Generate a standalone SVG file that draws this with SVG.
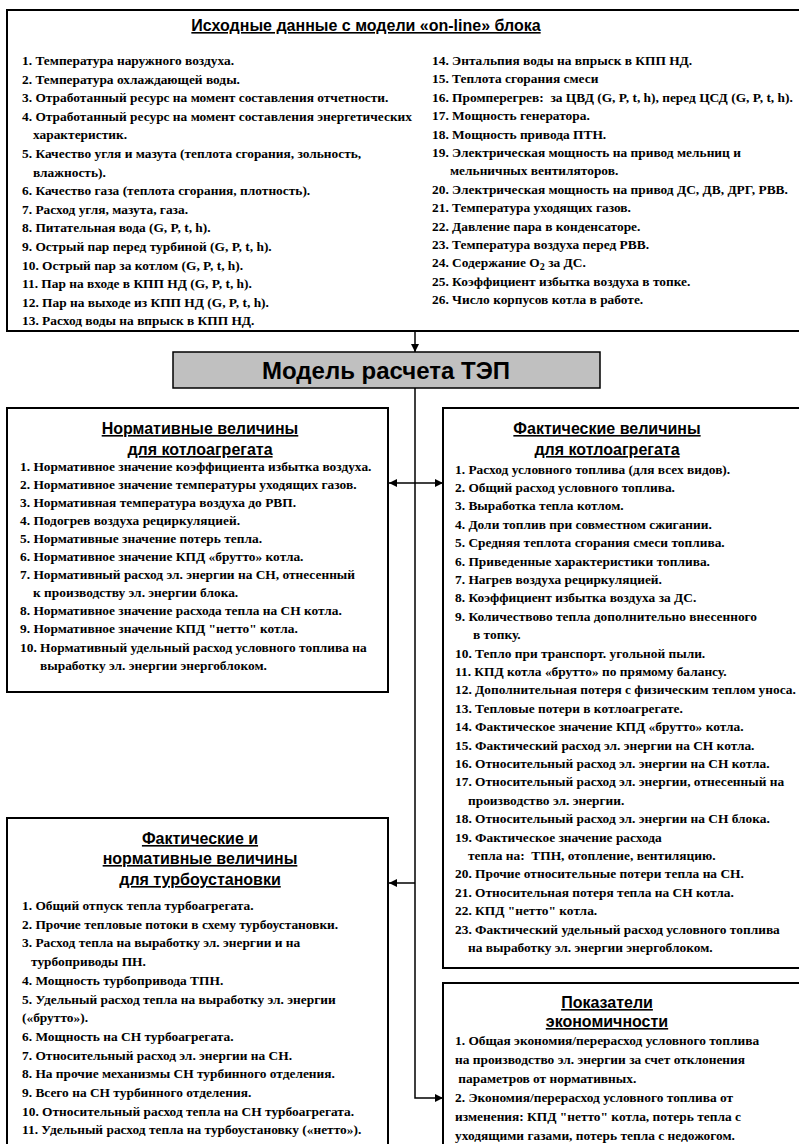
<svg xmlns="http://www.w3.org/2000/svg" width="799" height="1144" viewBox="0 0 799 1144">
<style>
.box{fill:#fff;stroke:#000;stroke-width:2}
.t{font-family:"Liberation Serif","Times New Roman",serif;font-weight:bold;font-size:13.4px;fill:#000;white-space:pre}
.h{font-family:"Liberation Sans",Arial,sans-serif;font-weight:bold;font-size:16px;fill:#000;text-decoration:underline;text-anchor:middle}
.m{font-family:"Liberation Sans",Arial,sans-serif;font-weight:bold;font-size:24px;fill:#000;text-anchor:middle}
.c{fill:none;stroke:#000;stroke-width:1.5}
</style>
<defs>
<marker id="ah" viewBox="0 0 10 10" refX="10" refY="5" markerWidth="10" markerHeight="8" markerUnits="userSpaceOnUse" orient="auto">
<path d="M0,0 L10,5 L0,10 z" fill="#000"/>
</marker>
</defs>
<rect width="799" height="1144" fill="#fff"/>

<g id="connectors">
<line class="c" x1="415" y1="331" x2="415" y2="352" marker-end="url(#ah)"/>
<polyline class="c" points="415,388 415,1098 443,1098" marker-end="url(#ah)"/>
<line class="c" x1="415" y1="483" x2="389" y2="483" marker-end="url(#ah)"/>
<line class="c" x1="415" y1="483" x2="443" y2="483" marker-end="url(#ah)"/>
<line class="c" x1="415" y1="883" x2="389" y2="883" marker-end="url(#ah)"/>
</g>

<g id="source">
<rect class="box" x="7" y="10" width="800" height="321"/>
<text class="h" x="366" y="31">Исходные данные с модели «on-line» блока</text>
<text class="t" x="22" y="65">1. Температура наружного воздуха.</text>
<text class="t" x="22" y="83.6">2. Температура охлаждающей воды.</text>
<text class="t" x="22" y="102.2">3. Отработанный ресурс на момент составления отчетности.</text>
<text class="t" x="22" y="120.8">4. Отработанный ресурс на момент составления энергетических</text>
<text class="t" x="33" y="139.4">характеристик.</text>
<text class="t" x="22" y="158">5. Качество угля и мазута (теплота сгорания, зольность,</text>
<text class="t" x="33" y="176.6">влажность).</text>
<text class="t" x="22" y="195.2">6. Качество газа (теплота сгорания, плотность).</text>
<text class="t" x="22" y="213.8">7. Расход угля, мазута, газа.</text>
<text class="t" x="22" y="232.4">8. Питательная вода (G, P, t, h).</text>
<text class="t" x="22" y="251">9. Острый пар перед турбиной (G, P, t, h).</text>
<text class="t" x="22" y="269.6">10. Острый пар за котлом (G, P, t, h).</text>
<text class="t" x="22" y="288.2">11. Пар на входе в КПП НД (G, P, t, h).</text>
<text class="t" x="22" y="306.8">12. Пар на выходе из КПП НД (G, P, t, h).</text>
<text class="t" x="22" y="325.4">13. Расход воды на впрыск в КПП НД.</text>
<text class="t" x="432" y="65">14. Энтальпия воды на впрыск в КПП НД.</text>
<text class="t" x="432" y="83.4">15. Теплота сгорания смеси</text>
<text class="t" x="432" y="101.8">16. Промперегрев:  за ЦВД (G, P, t, h), перед ЦСД (G, P, t, h).</text>
<text class="t" x="432" y="120.2">17. Мощность генератора.</text>
<text class="t" x="432" y="138.6">18. Мощность привода ПТН.</text>
<text class="t" x="432" y="157">19. Электрическая мощность на привод мельниц и</text>
<text class="t" x="450" y="175.4">мельничных вентиляторов.</text>
<text class="t" x="432" y="193.8">20. Электрическая мощность на привод ДС, ДВ, ДРГ, РВВ.</text>
<text class="t" x="432" y="212.2">21. Температура уходящих газов.</text>
<text class="t" x="432" y="230.6">22. Давление пара в конденсаторе.</text>
<text class="t" x="432" y="249">23. Температура воздуха перед РВВ.</text>
<text class="t" x="432" y="267.4">24. Содержание O<tspan font-size="10" dy="3">2</tspan><tspan dy="-3"> за ДС.</tspan></text>
<text class="t" x="432" y="285.8">25. Коэффициент избытка воздуха в топке.</text>
<text class="t" x="432" y="304.2">26. Число корпусов котла в работе.</text>
</g>

<g id="model">
<rect x="173" y="352" width="427" height="36" fill="#c0c0c0" stroke="#000" stroke-width="1.5"/>
<text class="m" x="386" y="378.5">Модель расчета ТЭП</text>
</g>

<g id="norm-boiler">
<rect class="box" x="7" y="408" width="381" height="284"/>
<text class="h" x="200" y="434">Нормативные величины</text>
<text class="h" x="200" y="455">для котлоагрегата</text>
<text class="t" x="20" y="470.5">1. Нормативное значение коэффициента избытка воздуха.</text>
<text class="t" x="20" y="488.6">2. Нормативное значение температуры уходящих газов.</text>
<text class="t" x="20" y="506.7">3. Нормативная температура воздуха до РВП.</text>
<text class="t" x="20" y="524.8">4. Подогрев воздуха рециркуляцией.</text>
<text class="t" x="20" y="542.9">5. Нормативные значение потерь тепла.</text>
<text class="t" x="20" y="561">6. Нормативное значение КПД «брутто» котла.</text>
<text class="t" x="20" y="579.1">7. Нормативный расход эл. энергии на СН, отнесенный</text>
<text class="t" x="33" y="597.2">к производству эл. энергии блока.</text>
<text class="t" x="20" y="615.3">8. Нормативное значение расхода тепла на СН котла.</text>
<text class="t" x="20" y="633.4">9. Нормативное значение КПД "нетто" котла.</text>
<text class="t" x="20" y="651.5">10. Нормативный удельный расход условного топлива на</text>
<text class="t" x="40" y="669.6">выработку эл. энергии энергоблоком.</text>
</g>

<g id="fact-boiler">
<rect class="box" x="443" y="408" width="370" height="560"/>
<text class="h" x="607" y="434">Фактические величины</text>
<text class="h" x="607" y="455">для котлоагрегата</text>
<text class="t" x="455" y="473.5">1. Расход условного топлива (для всех видов).</text>
<text class="t" x="455" y="491.9">2. Общий расход условного топлива.</text>
<text class="t" x="455" y="510.3">3. Выработка тепла котлом.</text>
<text class="t" x="455" y="528.7">4. Доли топлив при совместном сжигании.</text>
<text class="t" x="455" y="547.1">5. Средняя теплота сгорания смеси топлива.</text>
<text class="t" x="455" y="565.5">6. Приведенные характеристики топлива.</text>
<text class="t" x="455" y="583.9">7. Нагрев воздуха рециркуляцией.</text>
<text class="t" x="455" y="602.3">8. Коэффициент избытка воздуха за ДС.</text>
<text class="t" x="455" y="620.7">9. Количествово тепла дополнительно внесенного</text>
<text class="t" x="473" y="639.1">в топку.</text>
<text class="t" x="455" y="657.5">10. Тепло при транспорт. угольной пыли.</text>
<text class="t" x="455" y="675.9">11. КПД котла «брутто» по прямому балансу.</text>
<text class="t" x="455" y="694.3">12. Дополнительная потеря с физическим теплом уноса.</text>
<text class="t" x="455" y="712.7">13. Тепловые потери в котлоагрегате.</text>
<text class="t" x="455" y="731.1">14. Фактическое значение КПД «брутто» котла.</text>
<text class="t" x="455" y="749.5">15. Фактический расход эл. энергии на СН котла.</text>
<text class="t" x="455" y="767.9">16. Относительный расход эл. энергии на СН котла.</text>
<text class="t" x="455" y="786.3">17. Относительный расход эл. энергии, отнесенный на</text>
<text class="t" x="468" y="804.7">производство эл. энергии.</text>
<text class="t" x="455" y="823.1">18. Относительный расход эл. энергии на СН блока.</text>
<text class="t" x="455" y="841.5">19. Фактическое значение расхода</text>
<text class="t" x="468" y="859.9">тепла на:  ТПН, отопление, вентиляцию.</text>
<text class="t" x="455" y="878.3">20. Прочие относительные потери тепла на СН.</text>
<text class="t" x="455" y="896.7">21. Относительная потеря тепла на СН котла.</text>
<text class="t" x="455" y="915.1">22. КПД "нетто" котла.</text>
<text class="t" x="455" y="933.5">23. Фактический удельный расход условного топлива</text>
<text class="t" x="468" y="951.9">на выработку эл. энергии энергоблоком.</text>
</g>

<g id="turbine">
<rect class="box" x="7" y="818" width="381" height="340"/>
<text class="h" x="200" y="844">Фактические и</text>
<text class="h" x="200" y="864">нормативные величины</text>
<text class="h" x="200" y="885">для турбоустановки</text>
<text class="t" x="22" y="910">1. Общий отпуск тепла турбоагрегата.</text>
<text class="t" x="22" y="928.7">2. Прочие тепловые потоки в схему турбоустановки.</text>
<text class="t" x="22" y="947.4">3. Расход тепла на выработку эл. энергии и на</text>
<text class="t" x="31" y="966.1">турбоприводы ПН.</text>
<text class="t" x="22" y="984.8">4. Мощность турбопривода ТПН.</text>
<text class="t" x="22" y="1003.5">5. Удельный расход тепла на выработку эл. энергии</text>
<text class="t" x="22" y="1022.2">(«брутто»).</text>
<text class="t" x="22" y="1040.9">6. Мощность на СН турбоагрегата.</text>
<text class="t" x="22" y="1059.6">7. Относительный расход эл. энергии на СН.</text>
<text class="t" x="22" y="1078.3">8. На прочие механизмы СН турбинного отделения.</text>
<text class="t" x="22" y="1097">9. Всего на СН турбинного отделения.</text>
<text class="t" x="22" y="1115.7">10. Относительный расход тепла на СН турбоагрегата.</text>
<text class="t" x="22" y="1134.4">11. Удельный расход тепла на турбоустановку («нетто»).</text>
</g>

<g id="economy">
<rect class="box" x="443" y="983" width="370" height="175"/>
<text class="h" x="607" y="1008">Показатели</text>
<text class="h" x="607" y="1027">экономичности</text>
<text class="t" x="455" y="1044.5">1. Общая экономия/перерасход условного топлива</text>
<text class="t" x="455" y="1063.5">на производство эл. энергии за счет отклонения</text>
<text class="t" x="455" y="1082.5"> параметров от нормативных.</text>
<text class="t" x="455" y="1101.5">2. Экономия/перерасход условного топлива от</text>
<text class="t" x="455" y="1120.5">изменения: КПД "нетто" котла, потерь тепла с</text>
<text class="t" x="455" y="1139.5">уходящими газами, потерь тепла с недожогом.</text>
</g>
</svg>
